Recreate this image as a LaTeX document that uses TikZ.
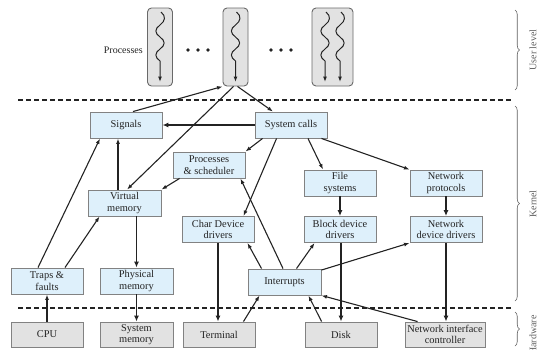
\documentclass[tikz,border=0pt]{standalone}
\usepackage{fontspec}
\setmainfont{Liberation Serif}
\usetikzlibrary{arrows.meta,decorations.pathreplacing}
\definecolor{kfill}{RGB}{222,240,251}
\definecolor{hfill}{RGB}{226,226,226}
\definecolor{bord}{RGB}{130,130,130}
\definecolor{pbord}{RGB}{105,105,105}
\definecolor{ink}{RGB}{35,35,35}
\definecolor{side}{RGB}{95,95,95}
\begin{document}
\begin{tikzpicture}[x=1pt,y=-1pt,
  kbox/.style={draw=bord, fill=kfill, line width=0.9pt, minimum width=72pt, minimum height=26pt, inner sep=1pt, align=center, font=\fontsize{10.4}{11.5}\selectfont, text=ink},
  hbox/.style={kbox, fill=hfill, minimum height=25pt},
  pbox/.style={draw=pbord, fill=hfill, rounded corners=4pt, line width=0.9pt, minimum height=78pt, inner sep=0pt},
  conn/.style={draw=ink, line width=1.1pt, -{Latex[length=5.5pt,width=4pt]}},
  thk/.style={draw=ink, line width=1.9pt, -{Latex[length=6pt,width=5pt]}},
  sep/.style={draw=ink, line width=1.6pt, dash pattern=on 5pt off 3pt},
  brc/.style={draw=side, line width=0.6pt, decorate, decoration={brace, amplitude=4.5pt}},
  sidelab/.style={rotate=90, text=side, font=\fontsize{10}{12}\selectfont}]
\useasboundingbox (0,0) rectangle (541,349);
\clip (0,0) rectangle (541,349);

% processes
\node[pbox, minimum width=25pt] (p1) at (160,47) {};
\node[pbox, minimum width=25pt] (p2) at (235.5,47) {};
\node[pbox, minimum width=41pt] (p3) at (332.5,47) {};
\node[anchor=east, text=ink, font=\fontsize{10}{12}\selectfont, inner sep=0pt] (plab) at (143,50) {Processes};
\foreach \wx in {160,235.5,325,340}{
  \draw[conn, line width=1pt] (\wx+1,12)
    .. controls (\wx+6,16) and (\wx+5.5,21) .. (\wx,25)
    .. controls (\wx-5.5,29) and (\wx-5.5,33) .. (\wx,37)
    .. controls (\wx+5.5,41) and (\wx+5.5,45) .. (\wx,49)
    .. controls (\wx-5.5,53) and (\wx-5.5,57) .. (\wx,61)
    -- (\wx,82);
}
\foreach \dx in {188,198,208,271,281,291}{
  \fill[ink] (\dx,50) circle (1.9pt);
}

% separators
\coordinate (s1a) at (18,100); \coordinate (s1b) at (512,100);
\coordinate (s2a) at (18,308); \coordinate (s2b) at (512,308);
\draw[sep] (s1a) -- (s1b);
\draw[sep] (s2a) -- (s2b);

% braces
\coordinate (b1a) at (515,10); \coordinate (b1b) at (515,90);
\coordinate (b2a) at (515,106); \coordinate (b2b) at (515,301);
\coordinate (b3a) at (515,312); \coordinate (b3b) at (515,346);
\draw[brc] (b1a) -- (b1b);
\draw[brc] (b2a) -- (b2b);
\draw[brc] (b3a) -- (b3b);
\node[sidelab] (lu) at (533,50) {User level};
\node[sidelab] (lk) at (533,204) {Kernel};
\node[sidelab] (lh) at (533,335) {Hardware};

% kernel boxes
\node[kbox] (sig) at (126,125) {Signals};
\node[kbox] (sys) at (291,125) {System calls};
\node[kbox] (ps) at (209,165) {Processes\\\& scheduler};
\node[kbox] (fs) at (340,183) {File\\systems};
\node[kbox] (np) at (446,183) {Network\\protocols};
\node[kbox, minimum width=73pt] (vm) at (124.5,203) {Virtual\\memory};
\node[kbox] (cdd) at (218,229.5) {Char Device\\drivers};
\node[kbox] (bdd) at (340,229.5) {Block device\\drivers};
\node[kbox] (ndd) at (446,229.5) {Network\\device drivers};
\node[kbox] (tf) at (47,281) {Traps \&\\faults};
\node[kbox, minimum width=73pt] (pm) at (136.5,281) {Physical\\memory};
\node[kbox, minimum width=73pt] (intr) at (284.5,282) {Interrupts};

% hardware boxes
\node[hbox] (cpu) at (47,334.5) {CPU};
\node[hbox, minimum width=73pt] (smem) at (136.5,334.5) {System\\memory};
\node[hbox] (term) at (219,334.5) {Terminal};
\node[hbox] (disk) at (341,334.5) {Disk};
\node[hbox, minimum width=80pt] (nic) at (445,334.5) {Network interface\\controller};

% connectors
\draw[conn] ([xshift=7pt]sig.north) -- (p2.south west);
\draw[conn] ([xshift=-2pt]p2.south) -- ([xshift=2.5pt]vm.north);
\draw[conn] ([xshift=2pt]p2.south) -- ([xshift=-18pt]sys.north);
\draw[thk] (sys.west) -- (sig.east);
\draw[conn] ([xshift=8pt]sys.south west) -- (ps.north east);
\draw[conn] ([xshift=22pt]sys.south west) -- ([xshift=-11pt]cdd.north east);
\draw[conn] ([xshift=17pt]sys.south) -- ([xshift=-17pt]fs.north);
\draw[conn] ([xshift=-6pt]sys.south east) -- (np.north west);
\draw[conn] ([xshift=7pt]ps.south west) -- (vm.north east);
\draw[conn] ([xshift=-6.5pt]vm.north) -- ([xshift=-8pt]sig.south);
\draw[conn] ([xshift=-9pt]tf.north) -- ([xshift=-26pt]sig.south);
\draw[conn] ([xshift=18pt]tf.north) -- ([xshift=12pt]vm.south west);
\draw[thk] (vm.south -| pm.north) -- (pm.north);
\draw[thk] (pm.south) -- (smem.north);
\draw[conn] (cpu.north) -- (tf.south);
\draw[thk] (cdd.south) -- (cdd.south |- term.north);
\draw[conn] ([xshift=-12pt]term.north east) -- ([xshift=12pt]intr.south west);
\draw[conn] ([xshift=14pt]intr.north west) -- ([xshift=-7pt]cdd.south east);
\draw[conn] ([xshift=-1.5pt]intr.north) -- ([xshift=-5pt]ps.south east);
\draw[conn] ([xshift=12pt]intr.north) -- ([xshift=11pt]bdd.south west);
\draw[conn] ([yshift=-1.5pt]intr.north east) -- (ndd.south west);
\draw[thk] (bdd.south -| disk.north) -- (disk.north);
\draw[conn] ([xshift=17pt]disk.north west) -- ([xshift=-13pt]intr.south east);
\draw[conn] ([xshift=13pt]nic.north west) -- (intr.south east);
\draw[thk] (ndd.south) -- (ndd.south |- nic.north);
\draw[thk] (fs.south) -- (bdd.north);
\draw[thk] (np.south) -- (ndd.north);
\end{tikzpicture}
\end{document}
